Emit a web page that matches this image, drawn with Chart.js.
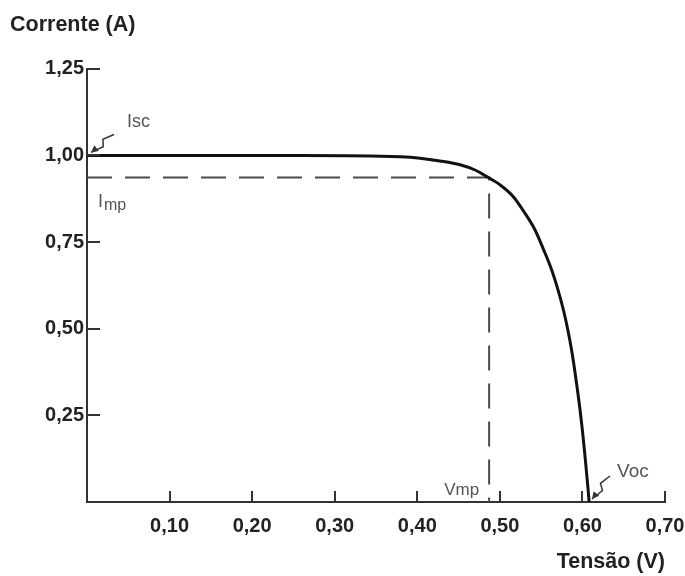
<!DOCTYPE html>
<html><head><meta charset="utf-8">
<script src="https://cdn.jsdelivr.net/npm/chart.js@4/dist/chart.umd.min.js"></script>
<style>html,body{margin:0;padding:0;background:#fff}#wrap{width:685px;height:576px}</style>
</head><body><div id="wrap"><canvas id="c" width="685" height="576"></canvas></div>
<script>
// ---- data ----
const voltage = [0.0000, 0.1000, 0.2000, 0.2580, 0.3790, 0.4033, 0.4275, 0.4518, 0.4699, 0.4841, 0.5002, 0.5163, 0.5305, 0.5426, 0.5532, 0.5627, 0.5704, 0.5770, 0.5823, 0.5868, 0.5906, 0.5940, 0.5971, 0.5999, 0.6024, 0.6047, 0.6069, 0.6081];
const current = [1.000, 1.000, 1.000, 1.000, 0.996, 0.992, 0.984, 0.973, 0.958, 0.939, 0.915, 0.881, 0.833, 0.785, 0.727, 0.670, 0.612, 0.554, 0.497, 0.439, 0.381, 0.323, 0.266, 0.208, 0.150, 0.092, 0.035, 0.000];
const xTickValues = [0.10, 0.20, 0.30, 0.40, 0.50, 0.60, 0.70];
const yTickValues = [0.25, 0.50, 0.75, 1.00, 1.25];
const Isc = 1.00, Voc = 0.608, Vmp = 0.487, Imp = 0.936;
const xTitle = 'Tensão (V)';
const yTitle = 'Corrente (A)';

const FAM = '"Liberation Sans", Arial, Helvetica, sans-serif';
const fmt = v => (Math.abs(v) < 1e-9 ? '' : v.toFixed(2).replace('.', ','));

const curve = voltage.map((v, i) => ({x: v, y: current[i]}));
const mpLines = [{x: 0, y: Imp}, {x: Vmp, y: Imp}, {x: Vmp, y: 0}];

function arrow(ctx, x1, y1, x2, y2) {
  const dx = x2 - x1, dy = y2 - y1, L = Math.hypot(dx, dy);
  const ux = dx / L, uy = dy / L, nx = -uy, ny = ux;
  ctx.beginPath();
  ctx.moveTo(x1, y1);
  ctx.lineTo(x1 + dx * 0.4 + nx * 3, y1 + dy * 0.4 + ny * 3);
  ctx.lineTo(x1 + dx * 0.55 - nx * 3, y1 + dy * 0.55 - ny * 3);
  ctx.lineTo(x2, y2);
  ctx.stroke();
  ctx.beginPath();
  ctx.moveTo(x2, y2);
  ctx.lineTo(x2 - ux * 7 + nx * 3.5, y2 - uy * 7 + ny * 3.5);
  ctx.lineTo(x2 - ux * 7 - nx * 3.5, y2 - uy * 7 - ny * 3.5);
  ctx.closePath();
  ctx.fill();
}

const decor = {
  id: 'decor',
  afterDraw(chart) {
    const {ctx, scales: {x, y}} = chart;
    const left = x.left, bottom = y.bottom;
    ctx.save();
    ctx.strokeStyle = '#333'; ctx.lineWidth = 2;
    yTickValues.forEach(v => {
      const py = Math.round(y.getPixelForValue(v));
      ctx.beginPath(); ctx.moveTo(left, py); ctx.lineTo(left + 13, py); ctx.stroke();
    });
    xTickValues.forEach(v => {
      const px = Math.round(x.getPixelForValue(v));
      ctx.beginPath(); ctx.moveTo(px, bottom); ctx.lineTo(px, bottom - 11); ctx.stroke();
    });
    ctx.fillStyle = '#555'; ctx.textBaseline = 'middle'; ctx.textAlign = 'left';
    const iscX = x.getPixelForValue(0), iscY = y.getPixelForValue(Isc);
    ctx.font = '18px ' + FAM;
    ctx.fillText('Isc', iscX + 40, iscY - 33);
    const impY = y.getPixelForValue(Imp);
    ctx.fillText('I', iscX + 11, impY + 24);
    ctx.font = '16px ' + FAM;
    ctx.fillText('mp', iscX + 17, impY + 28);
    const vmpX = x.getPixelForValue(Vmp);
    ctx.font = '17px ' + FAM; ctx.textAlign = 'right';
    ctx.fillText('Vmp', vmpX - 10, bottom - 12);
    const vocX = x.getPixelForValue(Voc);
    ctx.font = '19px ' + FAM; ctx.textAlign = 'left';
    ctx.fillText('Voc', vocX + 28, bottom - 30);
    ctx.strokeStyle = '#333'; ctx.fillStyle = '#333'; ctx.lineWidth = 1.5;
    arrow(ctx, iscX + 27, iscY - 21, iscX + 4, iscY - 3);
    arrow(ctx, vocX + 21, bottom - 26, vocX + 3, bottom - 3);
    ctx.restore();
  }
};

new Chart(document.getElementById('c'), {
  type: 'scatter',
  data: {
    datasets: [
      {data: curve, showLine: true, borderColor: '#111', borderWidth: 3, pointRadius: 0,
       cubicInterpolationMode: 'monotone', fill: false, clip: 8},
      {data: mpLines, showLine: true, borderColor: '#4a4a4a', borderWidth: 2, pointRadius: 0,
       borderDash: [25, 13], tension: 0, fill: false}
    ]
  },
  options: {
    responsive: false, animation: false, devicePixelRatio: 1,
    layout: {padding: {left: 10, right: 20, top: 0, bottom: 0}},
    plugins: {
      legend: {display: false}, tooltip: {enabled: false},
      title: {display: true, text: yTitle, align: 'start', color: '#222',
              font: {family: FAM, size: 21.5, weight: 'bold'}, padding: {top: 12, bottom: 31}}
    },
    scales: {
      x: {
        type: 'linear', min: 0, max: 0.7,
        afterBuildTicks: s => { s.ticks = [0].concat(xTickValues).map(v => ({value: v})); },
        grid: {display: false, drawTicks: false},
        border: {display: true, color: '#333', width: 2},
        ticks: {padding: 12, color: '#222', maxRotation: 0, autoSkip: false,
                font: {family: FAM, size: 20, weight: 'bold'}, callback: v => fmt(v)},
        title: {display: true, text: xTitle, align: 'end', color: '#222',
                font: {family: FAM, size: 21.5, weight: 'bold'}, padding: {top: 0, bottom: 1}},
        afterFit: s => { s.height = 74; s.paddingLeft = 0; s.paddingRight = 0; }
      },
      y: {
        type: 'linear', min: 0, max: 1.25,
        afterBuildTicks: s => { s.ticks = [0].concat(yTickValues).map(v => ({value: v})); },
        grid: {display: false, drawTicks: false},
        border: {display: true, color: '#333', width: 2},
        ticks: {padding: 3, color: '#222', autoSkip: false,
                font: {family: FAM, size: 20, weight: 'bold'}, callback: v => fmt(v)},
        afterFit: s => { s.width = 77; s.paddingTop = 0; s.paddingBottom = 0; }
      }
    }
  },
  plugins: [decor]
});
</script></body></html>
